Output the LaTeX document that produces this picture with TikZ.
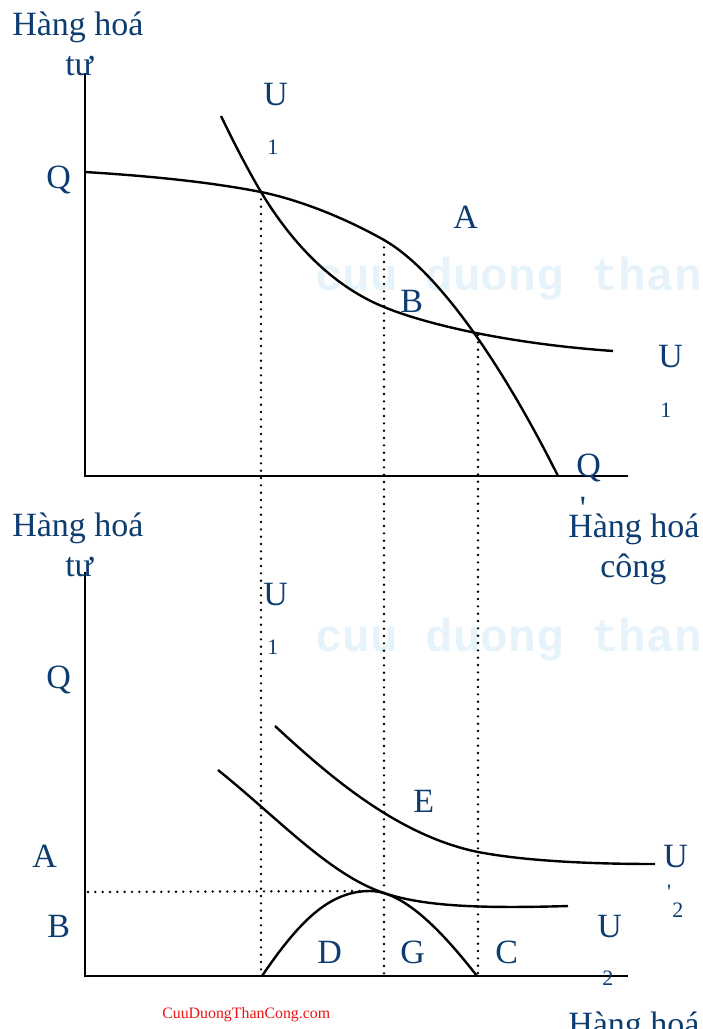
\documentclass[tikz,border=0pt]{standalone}
\usepackage{fontspec}
\setmainfont{Liberation Serif}
\newfontfamily\wmfont{Liberation Mono}
\definecolor{txt}{RGB}{12,60,112}
\definecolor{wm}{RGB}{230,243,251}
\definecolor{footred}{RGB}{235,20,20}
\begin{document}
\begin{tikzpicture}[x=0.75pt,y=-0.75pt,
  lbl/.style={anchor=base west, inner sep=0pt, text=txt, font=\fontsize{25.5}{30}\selectfont},
  sublbl/.style={anchor=base west, inner sep=0pt, text=txt, font=\fontsize{16.5}{20}\selectfont},
  wmark/.style={anchor=base west, inner sep=0pt, text=wm, font=\wmfont\bfseries\fontsize{34.5}{40}\selectfont},
  axisline/.style={line width=2.2pt, line join=miter},
  curveline/.style={line width=1.8pt},
  dotline/.style={line width=2pt, line cap=round, dash pattern=on 0pt off 5.5pt}]
\useasboundingbox (0,0) rectangle (703,1029);
\clip (0,0) rectangle (703,1029);

% watermarks
\node[wmark] (wm1) at (315,290) {cuu duong than};
\node[wmark] (wm2) at (315,651) {cuu duong than};

% ---------- top graph ----------
\coordinate (Y1) at (85,73);
\coordinate (O1) at (85,476);
\coordinate (X1) at (628,476);
\draw[axisline] (Y1) -- (O1) -- (X1);

\coordinate (P1) at (261,192);
\coordinate (PA) at (384,240);
\coordinate (P3) at (478,335);
\coordinate (UB) at (384,307);

% production possibility frontier
\draw[curveline] (85,172) .. controls (150,176) and (210,182) .. (P1)
  .. controls (300,200) and (345,218) .. (PA)
  .. controls (440,272) and (505,370) .. (558,476);
% indifference curve U1
\draw[curveline] (221,116) .. controls (235,145) and (248,170) .. (P1)
  .. controls (290,240) and (330,285) .. (UB)
  .. controls (420,322) and (500,343) .. (613,351);

% ---------- bottom graph ----------
\coordinate (Y2) at (85,572);
\coordinate (O2) at (85,976);
\coordinate (X2) at (628,976);
\draw[axisline] (Y2) -- (O2) -- (X2);

\coordinate (H0) at (262,976);
\coordinate (HP) at (370,891);
\coordinate (H1) at (477,976);
\coordinate (HA) at (88,892);
\coordinate (T2) at (384,893);

% utility possibility hump
\draw[curveline] (H0) .. controls (300,920) and (330,891) .. (HP)
  .. controls (405,891) and (445,935) .. (H1);
% U2
\draw[curveline] (218,770) .. controls (280,820) and (330,875) .. (T2)
  .. controls (420,905) and (470,909) .. (568,906);
% U'2
\draw[curveline] (275,726) .. controls (325,772) and (395,835) .. (478,852)
  .. controls (520,860) and (580,864) .. (655,864);

% dotted guides
\coordinate (B1) at (261,976);
\coordinate (B2) at (384,976);
\coordinate (B3) at (478,976);
\draw[dotline] (P1) -- (B1);
\draw[dotline] (PA) -- (B2);
\draw[dotline] (P3) -- (B3);
\draw[dotline] (HA) -- (HP);

% ---------- labels top ----------
\node[lbl] (t1) at (12,35) {Hàng hoá};
\node[lbl] (t2) at (65,75) {tư};
\node[lbl] (tQ) at (46,188) {Q};
\node[lbl] (tU) at (263,105) {U};
\node[sublbl] (tU1) at (267,154) {1};
\node[lbl] (tA) at (453,228) {A};
\node[lbl] (tB) at (400,312) {B};
\node[lbl] (tUr) at (658,367) {U};
\node[sublbl] (tUr1) at (660,417) {1};
\node[lbl] (tQr) at (576,476) {Q};
\node[anchor=north, inner sep=0pt, text=txt, font=\fontsize{25.5}{30}\selectfont] (tQp) at (583,497) {\textquotesingle};
\node[lbl] (tx1) at (568,537) {Hàng hoá};
\node[lbl] (tx2) at (600,577) {công};

% ---------- labels bottom ----------
\node[lbl] (b1) at (12,536) {Hàng hoá};
\node[lbl] (b2) at (65,576) {tư};
\node[lbl] (bU) at (263,605) {U};
\node[sublbl] (bU1) at (267,654) {1};
\node[lbl] (bQ) at (46,688) {Q};
\node[lbl] (bE) at (413,812) {E};
\node[lbl] (bA) at (32,867) {A};
\node[lbl] (bB) at (47,937) {B};
\node[lbl] (bUp) at (663,867) {U};
\node[anchor=north, inner sep=0pt, text=txt, font=\fontsize{16.5}{20}\selectfont] (bUpp) at (669,885) {\textquotesingle};
\node[sublbl] (bUp2) at (672,917) {2};
\node[lbl] (bU2) at (597,937) {U};
\node[sublbl] (bU22) at (602,985) {2};
\node[lbl] (bD) at (317,963) {D};
\node[lbl] (bG) at (400,963) {G};
\node[lbl] (bC) at (495,963) {C};
\node[lbl] (bx1) at (568,1035) {Hàng hoá};

% footer
\node[anchor=base west, inner sep=0pt, text=footred, font=\fontsize{11.9}{14}\selectfont] (foot) at (162,1018) {CuuDuongThanCong.com};
\end{tikzpicture}
\end{document}
